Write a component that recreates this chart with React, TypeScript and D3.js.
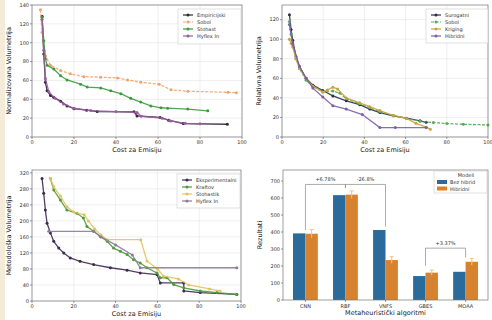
import React from "react";
import * as d3 from "d3";

type Pt = [number, number];

// top-left panel
const tlNames = ["Empiricijski", "Sobol", "Stohast", "Hyflex In"];
const tlDark: Pt[] = [[4.8,128],[5.6,88],[6.4,58],[7.2,49],[8.8,44],[10.4,42],[13.6,38],[16.7,33],[20,30],[26,28.5],[31,27],[48.6,26.7],[50,22.4],[61,20.7],[65,17.8],[72,14.2],[93,13.5]];
const tlOrange: Pt[] = [[4,135],[4.8,111],[6.4,86],[8.8,76],[13.6,70.5],[18.3,67],[24.7,64],[32.7,63.4],[40.7,62.7],[45.5,60.5],[51.8,58],[60.6,56],[66.2,50],[74.2,48.5],[93.3,47.4],[97.3,47]];
const tlGreen: Pt[] = [[4.8,127],[5.6,102],[6.4,83],[7.2,76],[10.4,72],[13.6,65],[16.7,60.5],[23.1,56],[26.3,53],[32.7,52],[37.5,49],[42.3,46],[47,41],[51.8,37],[56.6,33],[61.4,31],[64.6,30.6],[74.2,29.6],[83.7,27.8]];
const tlPurple: Pt[] = [[4.8,125],[5.6,92],[6.4,62],[8,48],[11,41],[15,35],[20,30.5],[28,28],[40,27],[50,26],[52,22],[62,20],[66,17],[73,14.5],[80,14]];
const tlTicksY = [0, 20, 40, 60, 80, 100, 120, 140];

// top-right panel
const trNames = ["Surogatni", "Sobol", "Kriging", "Hibridni"];
const trDark: Pt[] = [[3.6,125],[4.4,110],[5.2,99],[6.8,82],[8.5,72],[11.7,60],[15,53],[19.8,47.6],[24.7,42],[31.2,37],[37.7,33],[42.6,28.6],[47.5,25],[54,21.7],[60.5,19.3],[67,16.6],[70,15]];
const trGreen: Pt[] = [[3.6,118],[4.4,105],[5.2,95],[6.8,80],[8.5,70],[11.7,58],[15,52],[19.8,46],[24.7,47],[28,45],[31.2,39],[37.7,34],[42.6,30],[47.5,26],[54,22],[60.5,19],[67,16],[73.5,14.8],[80,13.8],[88,13],[100,12.4]];
const trOrange: Pt[] = [[3.6,100],[4.4,96],[5.2,92],[6.8,80],[8.5,70],[11.7,60],[15,52],[19.8,46],[22,48],[24.7,51],[27,49],[31.2,40],[37.7,35],[42.6,31],[47.5,27],[54,22],[60.5,19],[65,14],[70,10],[72,8]];
const trPurple: Pt[] = [[3.6,115],[5.2,95],[8.5,72],[11.7,60],[15,50],[19.8,41],[24.7,32],[31.2,28.6],[39,23],[47.5,9.6],[55,9.6],[70,9.6]];
const trTicksY = [0, 20, 40, 60, 80, 100, 120];

// bottom-left panel
const blNames = ["Eksperimentalni", "Kraftov", "Stohastik", "Hyflex In"];
const blDark: Pt[] = [[4.8,306],[5.6,269],[6.4,227],[7.2,194],[8.8,170],[10.4,149],[12.8,132],[15.2,120],[18.3,107.5],[23,99],[29.5,91],[37.5,83],[45.5,77],[51.8,70],[59.8,66],[61.4,45],[72.6,45],[72.6,25],[80.5,21],[98,16.5]];
const blGreen: Pt[] = [[8.8,306],[10.4,277],[13.6,252],[16.7,227],[21.5,219],[24.6,207],[26.3,186],[29.5,174],[32.7,161],[36,149],[39,132],[42.3,124],[45.5,116],[48.6,103],[51.8,95],[55,83],[59.8,70],[61.4,58],[64.6,58],[67.8,41],[72.6,33],[80.5,25],[88.5,21],[98,16.5]];
const blOrange: Pt[] = [[8.8,306],[10.4,285],[13.6,262],[16.7,235],[20,222],[25,215],[27,200],[30,180],[33,165],[36,153],[52,153],[55,100],[60,80],[63,62],[70,55],[75,40],[85,30],[90,25]];
const blPurple: Pt[] = [[8,174],[29.5,174],[33,160],[40,140],[48,115],[51.8,83],[98,83]];
const blTicksY = [0, 40, 80, 120, 160, 200, 240, 280, 320];

const xTicks = [0, 20, 40, 60, 80, 100];

// bottom-right bar panel
const barCats = ["CNN", "RBF", "VNFS", "GBES", "MOAA"];
const barBlue = [392, 617, 412, 141, 166];
const barOrange = [390, 620, 235, 161, 225];
const barErr = [25, 22, 20, 15, 20];
const barSeries = ["Bez hibrid", "Hibridni"];
const barTicksY = [0, 100, 200, 300, 400, 500, 600, 700];

const FONT = "DejaVu Sans";

type Series = { pts: Pt[]; color: string; dash?: string };

function LinePanel(props: {
  x0: number; x1: number; y0: number; y1: number; yMax: number;
  yTicks: number[]; series: Series[]; names: string[];
  ylabel: string; xlabel: string; legend: [number, number, number, number];
}) {
  const { x0, x1, y0, y1, yMax, yTicks, series, names, ylabel, xlabel, legend } = props;
  const x = d3.scaleLinear().domain([0, 100]).range([x0, x1]);
  const y = d3.scaleLinear().domain([0, yMax]).range([y1, y0]);
  const line = d3.line<Pt>().x((d) => x(d[0])).y((d) => y(d[1]));
  const [lx, ly, lw, lh] = legend;
  return (
    <g fontFamily={FONT}>
      {xTicks.map((t) => (
        <line key={"gx" + t} x1={x(t)} x2={x(t)} y1={y0} y2={y1} stroke="#e4e4e4" strokeWidth={0.6} />
      ))}
      {yTicks.map((t) => (
        <line key={"gy" + t} x1={x0} x2={x1} y1={y(t)} y2={y(t)} stroke="#e4e4e4" strokeWidth={0.6} />
      ))}
      {series.map((s, i) => (
        <g key={i}>
          <path d={line(s.pts) || ""} fill="none" stroke={s.color} strokeWidth={1.3} strokeDasharray={s.dash} opacity={0.9} />
          {s.pts.map((p, j) => (
            <circle key={j} cx={x(p[0])} cy={y(p[1])} r={1.5} fill={s.color} />
          ))}
        </g>
      ))}
      <rect x={x0} y={y0} width={x1 - x0} height={y1 - y0} fill="none" stroke="#777" strokeWidth={0.7} />
      {xTicks.map((t) => (
        <g key={"tx" + t}>
          <line x1={x(t)} x2={x(t)} y1={y1} y2={y1 + 2} stroke="#555" strokeWidth={0.6} />
          <text x={x(t)} y={y1 + 7} fontSize={5} textAnchor="middle" fill="#333">{t}</text>
        </g>
      ))}
      {yTicks.map((t) => (
        <g key={"ty" + t}>
          <line x1={x0 - 2} x2={x0} y1={y(t)} y2={y(t)} stroke="#555" strokeWidth={0.6} />
          <text x={x0 - 3} y={y(t) + 1.8} fontSize={5} textAnchor="end" fill="#333">{t}</text>
        </g>
      ))}
      <text x={(x0 + x1) / 2} y={y1 + 15} fontSize={6.5} textAnchor="middle" fill="#222">{xlabel}</text>
      <text transform={`translate(${x0 - 21},${(y0 + y1) / 2}) rotate(-90)`} fontSize={6.5} textAnchor="middle" fill="#222">{ylabel}</text>
      <rect x={lx} y={ly} width={lw} height={lh} fill="#fff" fillOpacity={0.85} stroke="#ccc" strokeWidth={0.6} />
      {names.map((n, i) => (
        <g key={n}>
          <line x1={lx + 5} x2={lx + 15} y1={ly + 6 + i * 7} y2={ly + 6 + i * 7} stroke={series[i].color} strokeWidth={1.2} strokeDasharray={series[i].dash} />
          <circle cx={lx + 10} cy={ly + 6 + i * 7} r={1.5} fill={series[i].color} />
          <text x={lx + 19} y={ly + 8 + i * 7} fontSize={5} fill="#333">{n}</text>
        </g>
      ))}
    </g>
  );
}

function BarPanel() {
  const x0 = 283, x1 = 488, y0 = 170, y1 = 300;
  const x = d3.scaleBand<string>().domain(barCats).range([x0, x1]).paddingInner(0.38).paddingOuter(0.25);
  const sub = d3.scaleBand<number>().domain([0, 1]).range([0, x.bandwidth()]);
  const y = d3.scaleLinear().domain([0, 765]).range([y1, y0]);
  const blue = "#2a6b9c";
  const orange = "#d8822e";
  const cx = (c: string) => (x(c) || 0) + x.bandwidth() / 2;
  const br = [
    { a: "CNN", b: "RBF", h: 680, la: barBlue[0] + 20, lb: barOrange[1] + 40, label: "+6.78%" },
    { a: "RBF", b: "VNFS", h: 680, la: barOrange[1] + 40, lb: barBlue[2] + 20, label: "-26.8%" },
    { a: "GBES", b: "MOAA", h: 305, la: barOrange[3] + 40, lb: barOrange[4] + 25, label: "+3.37%" },
  ];
  return (
    <g fontFamily={FONT}>
      {barCats.map((c, i) => (
        <g key={c}>
          <rect x={(x(c) || 0) + (sub(0) || 0)} y={y(barBlue[i])} width={sub.bandwidth()} height={y1 - y(barBlue[i])} fill={blue} />
          <rect x={(x(c) || 0) + (sub(1) || 0)} y={y(barOrange[i])} width={sub.bandwidth()} height={y1 - y(barOrange[i])} fill={orange} />
          <line x1={(x(c) || 0) + (sub(1) || 0) + sub.bandwidth() / 2} x2={(x(c) || 0) + (sub(1) || 0) + sub.bandwidth() / 2}
            y1={y(barOrange[i] - barErr[i])} y2={y(barOrange[i] + barErr[i])} stroke="#f6c27a" strokeWidth={1} />
          <line x1={(x(c) || 0) + (sub(1) || 0) + sub.bandwidth() / 2 - 2} x2={(x(c) || 0) + (sub(1) || 0) + sub.bandwidth() / 2 + 2}
            y1={y(barOrange[i] + barErr[i])} y2={y(barOrange[i] + barErr[i])} stroke="#f6c27a" strokeWidth={1} />
        </g>
      ))}
      {br.map((b) => (
        <g key={b.label}>
          <path d={`M${cx(b.a)},${y(b.la)}V${y(b.h)}H${cx(b.b)}V${y(b.lb)}`} fill="none" stroke="#888" strokeWidth={0.7} />
          <text x={(cx(b.a) + cx(b.b)) / 2} y={y(b.h) - 3} fontSize={5} textAnchor="middle" fill="#333">{b.label}</text>
        </g>
      ))}
      <rect x={x0} y={y0} width={x1 - x0} height={y1 - y0} fill="none" stroke="#777" strokeWidth={0.7} />
      {barCats.map((c) => (
        <g key={"t" + c}>
          <line x1={cx(c)} x2={cx(c)} y1={y1} y2={y1 + 2} stroke="#555" strokeWidth={0.6} />
          <text x={cx(c)} y={y1 + 8} fontSize={5} textAnchor="middle" fill="#333">{c}</text>
        </g>
      ))}
      {barTicksY.map((t) => (
        <g key={"y" + t}>
          <line x1={x0 - 2} x2={x0} y1={y(t)} y2={y(t)} stroke="#555" strokeWidth={0.6} />
          <text x={x0 - 3} y={y(t) + 1.8} fontSize={5} textAnchor="end" fill="#333">{t}</text>
        </g>
      ))}
      <text x={(x0 + x1) / 2} y={y1 + 15} fontSize={6.5} textAnchor="middle" fill="#222">Metaheuristički algoritmi</text>
      <text transform={`translate(${x0 - 21},${(y0 + y1) / 2}) rotate(-90)`} fontSize={6.5} textAnchor="middle" fill="#222">Rezultati</text>
      <rect x={434} y={171} width={53} height={22} fill="#fff" stroke="#ccc" strokeWidth={0.6} />
      <text x={466} y={177} fontSize={5} textAnchor="middle" fill="#333">Modeli</text>
      {barSeries.map((n, i) => (
        <g key={n}>
          <rect x={437} y={180 + i * 6.5} width={10} height={4} fill={i === 0 ? blue : orange} />
          <text x={450} y={184 + i * 6.5} fontSize={5} fill="#333">{n}</text>
        </g>
      ))}
    </g>
  );
}

export default function App() {
  return (
    <svg width={492} height={320} style={{ position: "absolute", left: 0, top: 0, background: "#fff" }}>
      <rect x={0} y={0} width={5} height={320} fill="#f4ecd8" />
      <LinePanel x0={32} x1={242} y0={5} y1={137} yMax={140} yTicks={tlTicksY}
        series={[{ pts: tlDark, color: "#33243f" }, { pts: tlOrange, color: "#f2a36c", dash: "3,1.5" }, { pts: tlGreen, color: "#3f9a3f" }, { pts: tlPurple, color: "#9a5d9c" }]}
        names={tlNames} ylabel="Normalizovana Volumetrija" xlabel="Cost za Emisiju" legend={[178, 9, 63, 35]} />
      <LinePanel x0={282} x1={488} y0={5} y1={137} yMax={135} yTicks={trTicksY}
        series={[{ pts: trDark, color: "#2e2d4d" }, { pts: trGreen, color: "#5aab55", dash: "3,1.5" }, { pts: trOrange, color: "#c9a33c" }, { pts: trPurple, color: "#7d5ea8" }]}
        names={trNames} ylabel="Relativna Volumetrija" xlabel="Cost za Emisiju" legend={[426, 9, 62, 34]} />
      <LinePanel x0={32} x1={241} y0={170} y1={301} yMax={327} yTicks={blTicksY}
        series={[{ pts: blDark, color: "#3d2a50" }, { pts: blGreen, color: "#4e9a3c" }, { pts: blOrange, color: "#e7c15c" }, { pts: blPurple, color: "#8c7c9c" }]}
        names={blNames} ylabel="Metodološka Volumetrija" xlabel="Cost za Emisiju" legend={[177, 174, 63, 34]} />
      <BarPanel />
    </svg>
  );
}
